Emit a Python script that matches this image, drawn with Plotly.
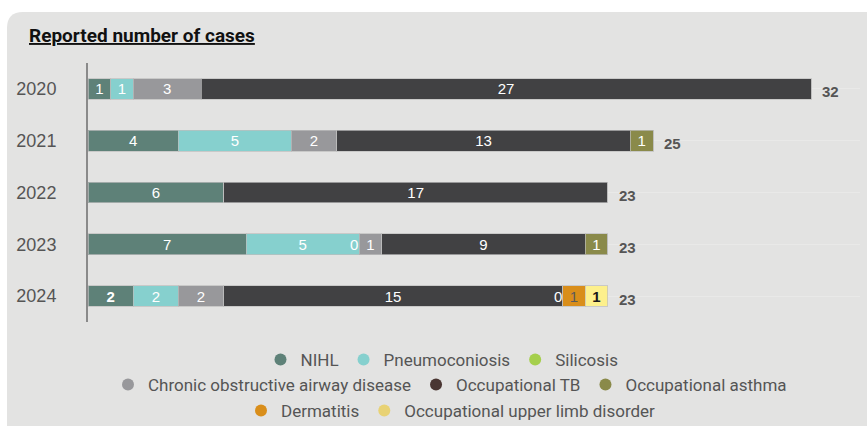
import plotly.graph_objects as go

# Reported cases per year, by disease category (None = no entry)
years = ["2020", "2021", "2022", "2023", "2024"]
nihl = [1, 4, 6, 7, 2]
pneumoconiosis = [1, 5, None, 5, 2]
silicosis = [None, None, None, 0, None]
coad = [3, 2, None, 1, 2]
occupational_tb = [27, 13, 17, 9, 15]
occupational_asthma = [None, 1, None, 1, 0]
dermatitis = [None, None, None, None, 1]
upper_limb = [None, None, None, None, 1]

series = [
    ("NIHL", nihl, "#5e8178", "#5e8178"),
    ("Pneumoconiosis", pneumoconiosis, "#86d0ce", "#86d0ce"),
    ("Silicosis", silicosis, "#a5cf4c", "#a5cf4c"),
    ("Chronic obstructive airway disease", coad, "#98989b", "#98989b"),
    ("Occupational TB", occupational_tb, "#414143", "#4a3632"),
    ("Occupational asthma", occupational_asthma, "#8a8a4a", "#8a8a4a"),
    ("Dermatitis", dermatitis, "#d98e1a", "#d98e1a"),
    ("Occupational upper limb disorder", upper_limb, "#fdf08c", "#e8d274"),
]

# label colours that differ from the white default
label_colors = {("Dermatitis", "2024"): "#5a5a5a",
                ("Occupational upper limb disorder", "2024"): "#1a1a1a"}
bold_labels = {("NIHL", "2024"), ("Occupational upper limb disorder", "2024")}

NUM_FONT = "Liberation Sans, Arial, sans-serif"
TXT_FONT = "Roboto, Open Sans, sans-serif"

fig = go.Figure()
annotations = []
cum = [0] * len(years)

for name, vals, bar_col, _ in series:
    xs, texts, tcols = [], [], []
    for i, (yr, v) in enumerate(zip(years, vals)):
        val = v if v is not None else 0
        xs.append(val)
        if v is None or v == 0:
            texts.append("")
        else:
            t = str(v)
            if (name, yr) in bold_labels:
                t = f"<b>{t}</b>"
            texts.append(t)
        tcols.append(label_colors.get((name, yr), "white"))
        if v == 0:
            # explicit zero: label sits at the end of the running stack
            annotations.append(dict(x=cum[i], y=i, xref="x", yref="y", text="0",
                                    showarrow=False, xanchor="right", xshift=1,
                                    font=dict(family=NUM_FONT, size=15, color="white")))
        cum[i] += val
    fig.add_trace(go.Bar(
        name=name, y=years, x=xs, orientation="h",
        marker=dict(color=bar_col, line=dict(color="rgba(190,190,190,0.7)", width=1)),
        text=texts, textposition="inside", insidetextanchor="middle",
        textangle=0, constraintext="none",
        textfont=dict(family=NUM_FONT, size=15, color=tcols),
        showlegend=False, hoverinfo="x+name",
    ))

# totals at the end of each stack (y given as category index)
for i, total in enumerate(cum):
    annotations.append(dict(x=total, y=i, xref="x", yref="y", text=f"<b>{total}</b>",
                            showarrow=False, xanchor="left", xshift=9, yshift=-3,
                            font=dict(family=NUM_FONT, size=15, color="#555555")))

# circular legend markers, split into three centred rows
rows = [["NIHL", "Pneumoconiosis", "Silicosis"],
        ["Chronic obstructive airway disease", "Occupational TB", "Occupational asthma"],
        ["Dermatitis", "Occupational upper limb disorder"]]
legend_ids = ["legend", "legend2", "legend3"]
for name, _, _, leg_col in series:
    r = next(k for k, row in enumerate(rows) if name in row)
    fig.add_trace(go.Scatter(
        x=[None], y=[None], mode="markers", name=name,
        marker=dict(color=leg_col, size=12, symbol="circle"),
        legend=legend_ids[r], showlegend=True,
    ))

W, H = 867, 426
L, R, T, B = 88, 7, 63, 104
pw, ph = W - L - R, H - T - B


def px_x(p):
    return (p - L) / pw


def px_y(p):
    return (H - B - p) / ph


annotations.append(dict(x=px_x(27), y=px_y(35), xref="paper", yref="paper",
                        text="<u><b>Reported number of cases</b></u>",
                        showarrow=False, xanchor="left", yanchor="middle",
                        font=dict(family=TXT_FONT, size=19, color="#111111")))

# rounded background panel
x0, x1, y0, y1 = px_x(7), px_x(880), px_y(12), px_y(440)
rx, ry = 16 / pw, 16 / ph
panel = (f"M {x0},{y0 - ry} Q {x0},{y0} {x0 + rx},{y0} L {x1},{y0} L {x1},{y1} "
         f"L {x0},{y1} Z")

leg_common = dict(orientation="h", xanchor="center", yanchor="middle",
                  traceorder="normal", itemwidth=30,
                  font=dict(family=TXT_FONT, size=17, color="#555555"),
                  bgcolor="rgba(0,0,0,0)", itemsizing="constant", tracegroupgap=0)

fig.update_layout(
    width=W, height=H,
    margin=dict(l=L, r=R, t=T, b=B, autoexpand=False),
    paper_bgcolor="white", plot_bgcolor="rgba(0,0,0,0)",
    barmode="stack", bargap=0.6,
    shapes=[dict(type="path", path=panel, xref="paper", yref="paper",
                 fillcolor="#e3e3e2", line=dict(width=0), layer="below")],
    annotations=annotations,
    xaxis=dict(range=[0, (W - R - L) / 22.6], visible=False, fixedrange=True),
    yaxis=dict(type="category", categoryorder="array", categoryarray=years,
               range=[len(years) - 0.5, -0.5], autorange=False,
               showline=True, linecolor="#8a8a8a", linewidth=2,
               showgrid=True, gridcolor="#e9e9e8", gridwidth=1,
               ticks="", ticklabelstandoff=26,
               tickfont=dict(family=NUM_FONT, size=18, color="#555555")),
    legend=dict(x=px_x(442), y=px_y(360), **leg_common),
    legend2=dict(x=px_x(450), y=px_y(385), **leg_common),
    legend3=dict(x=px_x(451), y=px_y(411), **leg_common),
)

fig.write_html("out.html")
